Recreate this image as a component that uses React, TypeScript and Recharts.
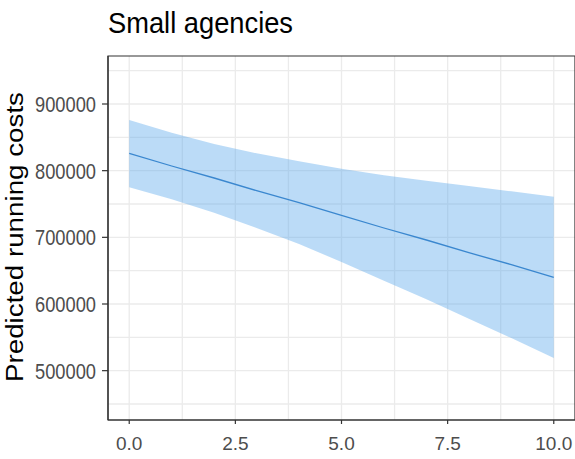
import React from "react";
import {
  ComposedChart,
  Area,
  Line,
  XAxis,
  YAxis,
  CartesianGrid,
  ReferenceArea,
} from "recharts";

const xValues = [0, 1, 2, 3, 4, 5, 6, 7, 8, 9, 10];
const fitValues = [826000, 807000, 789000, 770000, 752000, 733000, 714000, 696000, 677000, 659000, 640000];
const upperValues = [876000, 857000, 840000, 826000, 814000, 803000, 793000, 785000, 777000, 769000, 761000];
const lowerValues = [775000, 757000, 737000, 714000, 690000, 663000, 635000, 607000, 578000, 549000, 519000];

const xTicks = [0, 2.5, 5, 7.5, 10];
const yTicks = [500000, 600000, 700000, 800000, 900000];
const xGrid = [0, 1.25, 2.5, 3.75, 5, 6.25, 7.5, 8.75, 10];
const yGrid = [450000, 500000, 550000, 600000, 650000, 700000, 750000, 800000, 850000, 900000, 950000];
const xDomain = [-0.5, 10.5];
const yDomain = [426000, 972000];

const titleText = "Small agencies";
const yLabelText = "Predicted running costs";

const data = xValues.map((x, i) => ({
  x,
  fit: fitValues[i],
  band: [lowerValues[i], upperValues[i]],
}));

const FONT = "'Liberation Sans', Arial, sans-serif";

const YTick = (props: any) => {
  const { x, y, payload } = props;
  return (
    <text
      x={x}
      y={y}
      dy="0.36em"
      textAnchor="end"
      fontSize={22}
      fontFamily={FONT}
      fill="#4d4d4d"
      textLength={61}
      lengthAdjust="spacingAndGlyphs"
    >
      {String(payload.value)}
    </text>
  );
};

const XTick = (props: any) => {
  const { x, y, payload } = props;
  return (
    <text
      x={x}
      y={y}
      dy="0.71em"
      textAnchor="middle"
      fontSize={19}
      fontFamily={FONT}
      fill="#4d4d4d"
    >
      {Number(payload.value).toFixed(1)}
    </text>
  );
};

export default function App() {
  return (
    <div style={{ position: "absolute", left: 0, top: 0, width: 575, height: 459, background: "#fff" }}>
      <ComposedChart
        width={575}
        height={459}
        data={data}
        margin={{ top: 56, right: 0, bottom: 0, left: 0 }}
      >
        <CartesianGrid
          stroke="#ebebeb"
          strokeWidth={1.3}
          horizontalValues={yGrid}
          verticalValues={xGrid}
        />
        <XAxis
          dataKey="x"
          type="number"
          domain={xDomain}
          ticks={xTicks}
          allowDataOverflow
          height={39}
          tickSize={4}
          tickMargin={13}
          tick={<XTick />}
          tickLine={{ stroke: "#333333", strokeWidth: 1.2 }}
          axisLine={{ stroke: "#333333", strokeWidth: 1.2 }}
        />
        <YAxis
          type="number"
          domain={yDomain}
          ticks={yTicks}
          allowDataOverflow
          width={108}
          tickSize={6}
          tickMargin={6}
          tick={<YTick />}
          tickLine={{ stroke: "#333333", strokeWidth: 1.2 }}
          axisLine={{ stroke: "#333333", strokeWidth: 1.2 }}
        />
        <Area
          dataKey="band"
          type="linear"
          stroke="none"
          fill="#56a5ec"
          fillOpacity={0.4}
          isAnimationActive={false}
        />
        <Line
          dataKey="fit"
          type="linear"
          stroke="#3a87cf"
          strokeWidth={1.3}
          dot={false}
          isAnimationActive={false}
        />
        <ReferenceArea
          x1={xDomain[0]}
          x2={xDomain[1]}
          y1={yDomain[0]}
          y2={yDomain[1]}
          fill="none"
          stroke="#333333"
          strokeWidth={1.2}
          ifOverflow="visible"
        />
      </ComposedChart>
      <svg
        width={575}
        height={459}
        style={{ position: "absolute", left: 0, top: 0, pointerEvents: "none" }}
      >
        <text
          x={108}
          y={33}
          fontSize={30}
          fontFamily={FONT}
          fill="#000000"
          textLength={185}
          lengthAdjust="spacingAndGlyphs"
        >
          {titleText}
        </text>
        <text
          x={23}
          y={237}
          transform="rotate(-90, 23, 237)"
          textAnchor="middle"
          fontSize={23}
          fontFamily={FONT}
          fill="#000000"
          textLength={290}
          lengthAdjust="spacingAndGlyphs"
        >
          {yLabelText}
        </text>
      </svg>
    </div>
  );
}
